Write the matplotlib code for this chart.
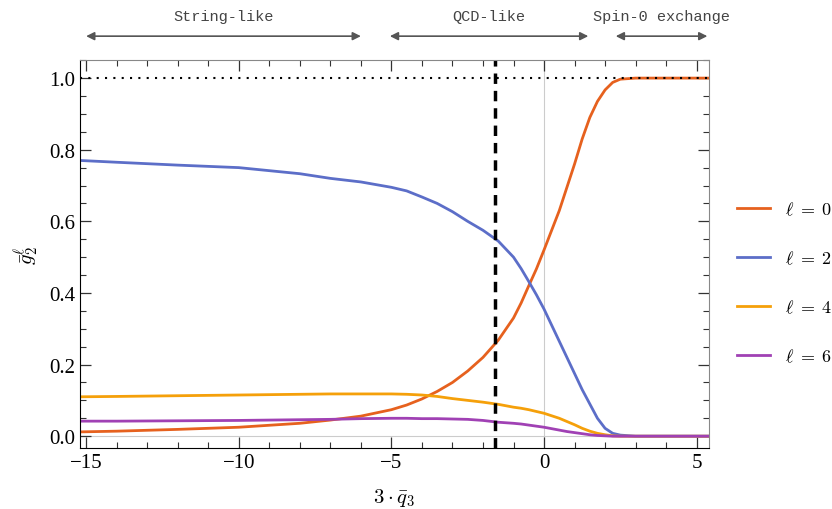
import numpy as np
import matplotlib.pyplot as plt
from matplotlib.ticker import MultipleLocator

plt.rcParams['font.family'] = ['Liberation Serif', 'DejaVu Serif']
plt.rcParams['mathtext.fontset'] = 'cm'

x = [-15.2, -14, -12, -10, -8, -7, -6, -5, -4.5, -4, -3.5, -3, -2.5, -2,
     -1.5, -1, -0.75, -0.5, -0.25, 0, 0.25, 0.5, 0.75, 1, 1.25, 1.5, 1.75,
     2, 2.25, 2.5, 3, 3.5, 4, 5, 5.4]
g_l0 = [0.012, 0.014, 0.019, 0.025, 0.036, 0.045, 0.056, 0.074, 0.087, 0.104,
        0.125, 0.15, 0.182, 0.22, 0.268, 0.33, 0.372, 0.42, 0.467, 0.52,
        0.575, 0.63, 0.695, 0.76, 0.83, 0.89, 0.935, 0.967, 0.988, 0.997,
        1.0, 1.0, 1.0, 1.0, 1.0]
g_l2 = [0.77, 0.765, 0.757, 0.75, 0.733, 0.72, 0.71, 0.695, 0.685, 0.668,
        0.65, 0.627, 0.60, 0.575, 0.545, 0.50, 0.468, 0.432, 0.395, 0.355,
        0.31, 0.265, 0.22, 0.175, 0.13, 0.09, 0.05, 0.022, 0.008, 0.003,
        0.0, 0.0, 0.0, 0.0, 0.0]
g_l4 = [0.11, 0.111, 0.113, 0.115, 0.117, 0.118, 0.118, 0.118, 0.117, 0.115,
        0.111, 0.105, 0.10, 0.095, 0.089, 0.081, 0.078, 0.074, 0.069, 0.064,
        0.057, 0.05, 0.041, 0.032, 0.022, 0.014, 0.008, 0.004, 0.001, 0.0,
        0.0, 0.0, 0.0, 0.0, 0.0]
g_l6 = [0.042, 0.042, 0.043, 0.044, 0.046, 0.047, 0.049, 0.05, 0.05, 0.049,
        0.049, 0.048, 0.047, 0.044, 0.039, 0.036, 0.034, 0.031, 0.028, 0.025,
        0.021, 0.017, 0.013, 0.01, 0.007, 0.004, 0.002, 0.001, 0.0, 0.0,
        0.0, 0.0, 0.0, 0.0, 0.0]

labels = [r'$\ell\;=\;0$', r'$\ell\;=\;2$', r'$\ell\;=\;4$', r'$\ell\;=\;6$']
colors = ['#E6611E', '#5C6EC8', '#F5A00A', '#A041B4']

x_cut = -1.6
regions = [('String-like', -15.0, -6.0), ('QCD-like', -5.05, 1.45),
           ('Spin-0 exchange', 2.35, 5.35)]

fig = plt.figure(figsize=(8.32, 5.10), dpi=100)
ax = fig.add_axes([0.0962, 0.1196, 0.7558, 0.7604])

ax.axvline(0, color='#cccccc', lw=0.8, zorder=0)
ax.axhline(0, color='#cccccc', lw=0.8, zorder=0)

for ys, lab, c in zip([g_l0, g_l2, g_l4, g_l6], labels, colors):
    ax.plot(x, ys, color=c, lw=2, label=lab)

ax.axhline(1.0, color='black', lw=1.5, ls=(0, (1, 3)))
ax.axvline(x_cut, color='black', lw=2.5, ls=(0, (3, 2)))

ax.set_xlim(-15.2, 5.4)
ax.set_ylim(-0.033, 1.05)
ax.xaxis.set_major_locator(MultipleLocator(5))
ax.xaxis.set_minor_locator(MultipleLocator(1))
ax.yaxis.set_major_locator(MultipleLocator(0.2))
ax.yaxis.set_minor_locator(MultipleLocator(0.05))
ax.yaxis.set_major_formatter(plt.FuncFormatter(lambda v, p: f'{v:.1f}'))
ax.tick_params(which='both', direction='in', top=True, right=True,
               labelsize=15, color='#333333')
ax.tick_params(which='major', length=8, width=0.9)
ax.tick_params(which='minor', length=4, width=0.8)
for s in ['top', 'right']:
    ax.spines[s].set_color('#888888')

ax.set_xlabel(r'$3 \cdot \bar{q}_3$', fontsize=15, labelpad=10)
ax.set_ylabel(r'$\bar{g}_2^{\ell}$', fontsize=15, labelpad=6)

for name, a, b in regions:
    ax.annotate('', xy=(a, 1.062), xytext=(b, 1.062),
                xycoords=('data', 'axes fraction'),
                arrowprops=dict(arrowstyle='<|-|>', color='#555555', lw=1.2,
                                mutation_scale=12, shrinkA=0, shrinkB=0),
                annotation_clip=False)
    ax.text((a + b) / 2, 1.114, name, transform=ax.get_xaxis_transform(),
            ha='center', va='center', fontsize=11, color='#444444',
            family='Liberation Mono')

ax.legend(loc='center left', bbox_to_anchor=(1.045, 0.425), frameon=False,
          fontsize=13, handlelength=1.8, labelspacing=1.75, handletextpad=0.85,
          borderaxespad=0, borderpad=0)

fig.savefig('out.png', dpi=100)
